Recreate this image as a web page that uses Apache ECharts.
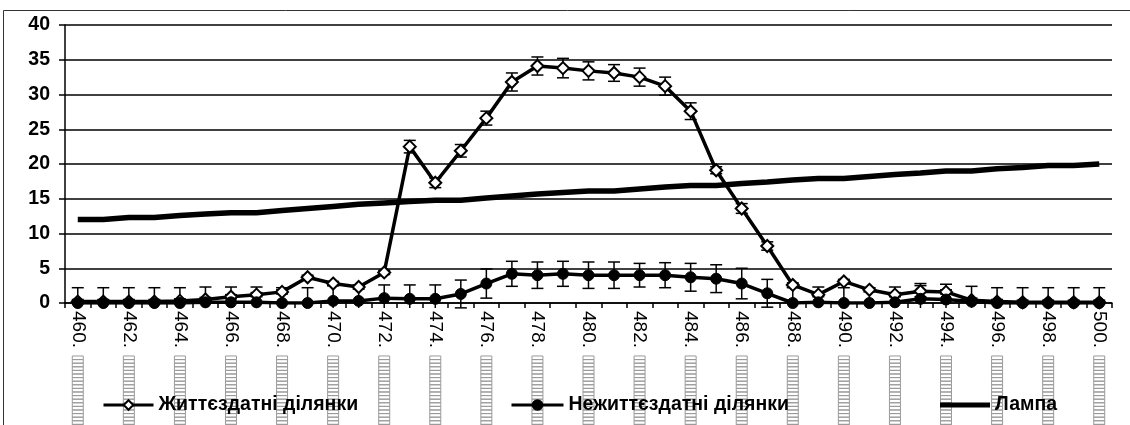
<!DOCTYPE html>
<html>
<head>
<meta charset="utf-8">
<script src="https://cdn.jsdelivr.net/npm/echarts@6/dist/echarts.min.js"></script>
<style>
html,body{margin:0;padding:0;background:#fff;}
#chart{width:1130px;height:425px;}
</style>
</head>
<body>
<div id="chart"></div>
<script>
// ---- data ----
const categories = ['460','461','462','463','464','465','466','467','468','469','470','471','472','473','474','475','476','477','478','479','480','481','482','483','484','485','486','487','488','489','490','491','492','493','494','495','496','497','498','499','500'];
const yTicks = [0,5,10,15,20,25,30,35,40];
const seriesNames = ['Життєздатні ділянки','Нежиттєздатні ділянки','Лампа'];
const viable = [0.2,0.2,0.2,0.2,0.3,0.5,0.9,1.2,1.6,3.7,2.8,2.3,4.4,22.5,17.3,21.9,26.6,31.8,34.1,33.8,33.4,33.1,32.5,31.2,27.6,19.1,13.6,8.2,2.6,1.2,3.1,1.9,1.2,1.7,1.6,0.4,0.2,0.1,0.1,0.1,0.1];
const viableErr = [0.3,0.3,0.3,0.3,0.3,0.3,0.3,0.3,0.3,0.3,0.3,0.3,0.3,0.9,0.7,0.9,1.0,1.3,1.3,1.4,1.3,1.2,1.3,1.3,1.2,0.5,0.7,0.6,0.3,0.3,0.3,0.3,0.3,0.8,0.3,0.3,0.3,0.3,0.3,0.3,0.3];
const nonviable = [0,0,0,0,0,0.1,0.1,0.1,0,0,0.3,0.3,0.7,0.6,0.6,1.3,2.8,4.2,4.0,4.2,4.0,4.0,4.0,4.0,3.7,3.5,2.8,1.4,0,0.1,0,0,0.1,0.6,0.5,0.2,0,0,0,0,0];
const nonviableErr = [2.2,2.2,2.2,2.2,2.2,2.2,2.2,2.2,2.2,2.2,2.2,2.2,1.9,2.0,2.0,2.0,2.1,1.8,1.9,1.8,1.9,1.9,1.7,1.8,2.0,2.0,2.2,2.0,2.2,2.2,2.2,2.2,2.2,2.2,2.2,2.2,2.2,2.2,2.2,2.2,2.2];
const lamp = [12,12,12.3,12.3,12.6,12.8,13,13,13.3,13.6,13.9,14.2,14.4,14.6,14.8,14.8,15.1,15.4,15.7,15.9,16.1,16.1,16.4,16.7,16.9,16.9,17.2,17.4,17.7,17.9,17.9,18.2,18.5,18.7,19,19,19.3,19.5,19.8,19.8,20];

const FONT = '"Liberation Sans", Arial, sans-serif';

function errData(vals, errs){
  return vals.map((v,i)=>[i, v-errs[i], v+errs[i]]);
}
function renderErr(params, api){
  const cs = params.coordSys;
  const bottom = cs.y + cs.height;
  const i = api.value(0);
  const pHi = api.coord([i, api.value(2)]);
  const pLo = api.coord([i, api.value(1)]);
  const x = pHi[0];
  const yHi = pHi[1];
  const yLo = pLo[1];
  const half = 6;
  const st = {stroke:'#000', lineWidth:1.5};
  const children = [
    {type:'line', shape:{x1:x,y1:yHi,x2:x,y2:Math.min(yLo,bottom+5)}, style:st},
    {type:'line', shape:{x1:x-half,y1:yHi,x2:x+half,y2:yHi}, style:st}
  ];
  if (yLo <= bottom + 5) {
    children.push({type:'line', shape:{x1:x-half,y1:yLo,x2:x+half,y2:yLo}, style:st});
  }
  return {type:'group', children};
}

const chart = echarts.init(document.getElementById('chart'), null, {renderer:'canvas'});
const legendBase = {
  orient:'horizontal', top:395, itemHeight:12, itemGap:0, padding:0,
  lineStyle:{width:3, color:'#000'},
  textStyle:{fontFamily:FONT, fontWeight:'bold', fontSize:19.5, color:'#000'}
};
chart.setOption({
  animation:false,
  backgroundColor:'#fff',
  graphic:[{type:'rect', shape:{x:3.5,y:10.5,width:1200,height:500}, style:{fill:'none', stroke:'#333', lineWidth:1}, z:-1}],
  grid:{left:65, right:18, top:25, bottom:122, containLabel:false, outerBoundsMode:'none'},
  legend:[
    Object.assign({}, legendBase, {left:102, itemWidth:50, data:[seriesNames[0]]}),
    Object.assign({}, legendBase, {left:510, itemWidth:52, data:[seriesNames[1]]}),
    Object.assign({}, legendBase, {left:940, itemWidth:50, itemHeight:5, data:[{name:seriesNames[2], icon:'rect'}]})
  ],
  xAxis:{
    type:'category', data:categories, boundaryGap:true,
    axisLine:{lineStyle:{color:'#000', width:1.5}},
    axisTick:{show:true, interval:0, length:5, lineStyle:{color:'#000', width:1.5}},
    axisLabel:{
      interval:1, rotate:-90, margin:8, color:'#000',
      fontFamily:FONT, fontSize:19,
      formatter:function(v){ return '{a|' + v + '.}{s| }' + '{b| }'.repeat(22); },
      rich:{
        a:{fontFamily:FONT, fontSize:19, color:'#000'},
        s:{width:8, fontSize:4},
        b:{width:3.6, height:11, borderColor:'#9a9a9a', borderWidth:1, fontSize:2}
      }
    },
    splitLine:{show:false}
  },
  yAxis:{
    type:'value', min:0, max:40, interval:5,
    axisLine:{show:true, lineStyle:{color:'#000', width:1.5}},
    axisTick:{show:true, length:6, lineStyle:{color:'#000', width:1.5}},
    axisLabel:{margin:15, color:'#000', fontFamily:FONT, fontSize:19.5, fontWeight:'bold',
      formatter:function(v){ return yTicks.indexOf(v)>=0 ? String(v) : ''; }},
    splitLine:{show:true, lineStyle:{color:'#000', width:1.5}}
  },
  series:[
    {type:'custom', name:'errViable', renderItem:renderErr, data:errData(viable, viableErr), encode:{x:0,y:[1,2]}, z:1, silent:true},
    {type:'custom', name:'errNonviable', renderItem:renderErr, data:errData(nonviable, nonviableErr), encode:{x:0,y:[1,2]}, z:1, silent:true},
    {type:'line', name:seriesNames[0], data:viable, symbol:'diamond', symbolSize:12, showAllSymbol:true,
      lineStyle:{color:'#000', width:3.5}, itemStyle:{color:'#fff', borderColor:'#000', borderWidth:2}, z:3},
    {type:'line', name:seriesNames[1], data:nonviable, symbol:'circle', symbolSize:11, showAllSymbol:true,
      lineStyle:{color:'#000', width:3.5}, itemStyle:{color:'#000', borderColor:'#000', borderWidth:1}, z:4},
    {type:'line', name:seriesNames[2], data:lamp, symbol:'none',
      lineStyle:{color:'#000', width:5.5}, itemStyle:{color:'#000'}, z:2}
  ]
});
</script>
</body>
</html>
